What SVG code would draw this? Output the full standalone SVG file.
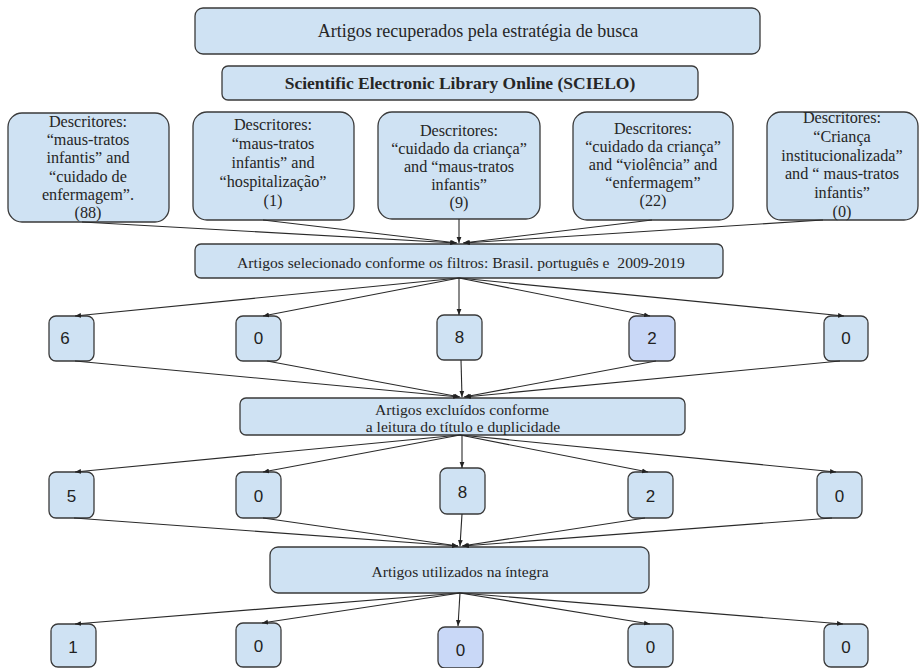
<svg xmlns="http://www.w3.org/2000/svg" width="920" height="668" viewBox="0 0 920 668">
<defs>
<marker id="ah" viewBox="0 0 10 10" refX="10" refY="5" markerWidth="6" markerHeight="6" orient="auto" markerUnits="userSpaceOnUse">
<path d="M0,1 L10,5 L0,9 z" fill="#222"/>
</marker>
<style>
.b{fill:#cfe2f3;stroke:#3a3a3a;stroke-width:1.3}
.b2{fill:#c9d8f7;stroke:#3a3a3a;stroke-width:1.3}
.t{font-family:'Liberation Serif','DejaVu Serif',serif;fill:#262626;text-anchor:middle}
.d{font-size:16.2px}
.m{font-size:15.6px}
.n{font-family:'Liberation Sans',Arial,sans-serif;font-size:17px;fill:#222;text-anchor:middle}
.c line{stroke:#2a2a2a;stroke-width:1.1;marker-end:url(#ah)}
</style>
</defs>
<rect width="920" height="668" fill="#fff"/>

<g id="top">
<rect class="b" x="195" y="8" width="565" height="46" rx="8"/>
<text class="t" x="478" y="37" font-size="18">Artigos recuperados pela estratégia de busca</text>
</g>
<g id="scielo">
<rect class="b" x="222" y="66" width="476" height="34" rx="6"/>
<text class="t" x="460" y="89" font-size="17.5" font-weight="bold">Scientific Electronic Library Online (SCIELO)</text>
</g>

<g id="d1">
<rect class="b" x="8" y="113" width="161" height="109" rx="14"/>
<text class="t d" x="88"><tspan x="88" y="127">Descritores:</tspan><tspan x="88" y="145.2">“maus-tratos</tspan><tspan x="88" y="163.4">infantis” and</tspan><tspan x="88" y="181.6">“cuidado de</tspan><tspan x="88" y="199.8">enfermagem”.</tspan><tspan x="88" y="218">(88)</tspan></text>
</g>
<g id="d2">
<rect class="b" x="193" y="112" width="161" height="108" rx="14"/>
<text class="t d" x="273"><tspan x="273" y="130">Descritores:</tspan><tspan x="273" y="149">“maus-tratos</tspan><tspan x="273" y="168">infantis” and</tspan><tspan x="273" y="187">“hospitalização”</tspan><tspan x="273" y="206">(1)</tspan></text>
</g>
<g id="d3">
<rect class="b" x="378" y="112" width="162" height="107" rx="14"/>
<text class="t d" x="459"><tspan x="459" y="136">Descritores:</tspan><tspan x="459" y="154">“cuidado da criança”</tspan><tspan x="459" y="172">and “maus-tratos</tspan><tspan x="459" y="190">infantis”</tspan><tspan x="459" y="208">(9)</tspan></text>
</g>
<g id="d4">
<rect class="b" x="573" y="112" width="160" height="108" rx="14"/>
<text class="t d" x="653"><tspan x="653" y="134">Descritores:</tspan><tspan x="653" y="152">“cuidado da criança”</tspan><tspan x="653" y="170">and “violência” and</tspan><tspan x="653" y="188">“enfermagem”</tspan><tspan x="653" y="206">(22)</tspan></text>
</g>
<g id="d5">
<rect class="b" x="767" y="112" width="151" height="108" rx="14"/>
<text class="t d" x="842"><tspan x="842" y="123">Descritores:</tspan><tspan x="842" y="141.8">“Criança</tspan><tspan x="842" y="160.6">institucionalizada”</tspan><tspan x="842" y="179.4">and “ maus-tratos</tspan><tspan x="842" y="198.2">infantis”</tspan><tspan x="842" y="217">(0)</tspan></text>
</g>

<g id="sel">
<rect class="b" x="195" y="244" width="528" height="34" rx="6"/>
<text class="t m" x="461" y="268" xml:space="preserve">Artigos selecionado conforme os filtros: Brasil. português e  2009-2019</text>
</g>

<g id="r2a"><rect class="b" x="49" y="316" width="45" height="45" rx="7"/><text class="n" x="65" y="344">6</text></g>
<g id="r2b"><rect class="b" x="236" y="316" width="45" height="45" rx="7"/><text class="n" x="258.5" y="344">0</text></g>
<g id="r2c"><rect class="b" x="437" y="315" width="45" height="45" rx="7"/><text class="n" x="459.5" y="343">8</text></g>
<g id="r2d"><rect class="b2" x="629" y="316" width="46" height="45" rx="7"/><text class="n" x="652" y="344">2</text></g>
<g id="r2e"><rect class="b" x="824" y="316" width="44" height="45" rx="7"/><text class="n" x="846" y="344">0</text></g>

<g id="exc">
<rect class="b" x="240" y="398" width="445" height="37" rx="6"/>
<text class="t m"><tspan x="462" y="415">Artigos excluídos conforme</tspan><tspan x="463" y="432">a leitura do título e duplicidade</tspan></text>
</g>

<g id="r3a"><rect class="b" x="49" y="472" width="45" height="46" rx="7"/><text class="n" x="71.5" y="502">5</text></g>
<g id="r3b"><rect class="b" x="236" y="472" width="45" height="46" rx="7"/><text class="n" x="258.5" y="502">0</text></g>
<g id="r3c"><rect class="b" x="440" y="468" width="45" height="46" rx="7"/><text class="n" x="462.5" y="498">8</text></g>
<g id="r3d"><rect class="b" x="628" y="472" width="45" height="46" rx="7"/><text class="n" x="650.5" y="502">2</text></g>
<g id="r3e"><rect class="b" x="817" y="472" width="45" height="46" rx="7"/><text class="n" x="839.5" y="502">0</text></g>

<g id="uti">
<rect class="b" x="270" y="547" width="379" height="46" rx="8"/>
<text class="t m" x="460" y="577">Artigos utilizados na íntegra</text>
</g>

<g id="r4a"><rect class="b" x="51" y="624" width="45" height="43" rx="7"/><text class="n" x="73" y="653">1</text></g>
<g id="r4b"><rect class="b" x="236" y="623" width="45" height="44" rx="7"/><text class="n" x="258.5" y="652">0</text></g>
<g id="r4c"><rect class="b2" x="438" y="627" width="45" height="41" rx="7"/><text class="n" x="460.5" y="656">0</text></g>
<g id="r4d"><rect class="b" x="628" y="624" width="45" height="43" rx="7"/><text class="n" x="650.5" y="653">0</text></g>
<g id="r4e"><rect class="b" x="824" y="624" width="44" height="43" rx="7"/><text class="n" x="846" y="653">0</text></g>

<g class="c" id="connectors">
<line x1="82" y1="222" x2="456" y2="243"/>
<line x1="263" y1="220" x2="457" y2="243"/>
<line x1="459" y1="219" x2="459" y2="243"/>
<line x1="652" y1="220" x2="463" y2="243"/>
<line x1="823" y1="220" x2="464" y2="243"/>

<line x1="459" y1="278" x2="75" y2="316"/>
<line x1="459" y1="278" x2="263" y2="316"/>
<line x1="459" y1="278" x2="459" y2="315"/>
<line x1="459" y1="278" x2="650" y2="316"/>
<line x1="459" y1="278" x2="844" y2="316"/>

<line x1="75" y1="361" x2="459" y2="397"/>
<line x1="267" y1="361" x2="460" y2="397"/>
<line x1="461" y1="360" x2="462" y2="397"/>
<line x1="656" y1="361" x2="464" y2="397"/>
<line x1="840" y1="361" x2="465" y2="397"/>

<line x1="460" y1="435" x2="75" y2="472"/>
<line x1="460" y1="435" x2="263" y2="472"/>
<line x1="462" y1="435" x2="462" y2="468"/>
<line x1="460" y1="435" x2="648" y2="472"/>
<line x1="460" y1="435" x2="836" y2="472"/>

<line x1="74" y1="518" x2="458" y2="546"/>
<line x1="263" y1="518" x2="458" y2="546"/>
<line x1="462" y1="514" x2="460" y2="546"/>
<line x1="645" y1="518" x2="462" y2="546"/>
<line x1="832" y1="518" x2="463" y2="546"/>

<line x1="460" y1="593" x2="75" y2="624"/>
<line x1="460" y1="593" x2="262" y2="623"/>
<line x1="460" y1="593" x2="458" y2="626"/>
<line x1="460" y1="593" x2="650" y2="624"/>
<line x1="460" y1="593" x2="843" y2="624"/>
</g>
</svg>
